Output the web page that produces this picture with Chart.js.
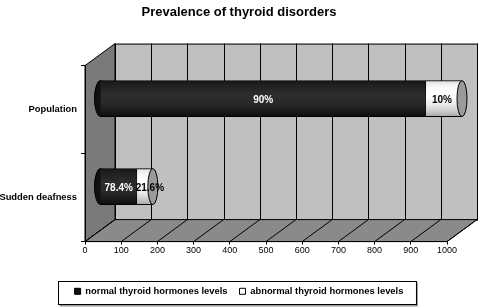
<!DOCTYPE html>
<html>
<head>
<meta charset="utf-8">
<script src="https://cdn.jsdelivr.net/npm/chart.js@4/dist/chart.umd.min.js"></script>
<style>
	body { margin: 0; background: #fff; }
	#wrap { width: 478px; height: 308px; }
</style>
</head>
<body>
<div id="wrap"><canvas id="myChart"></canvas></div>
<script>
var categories = ["Population", "Sudden deafness"];
var normalLevels = [900, 102];
var abnormalLevels = [100, 44];
var normalLabels = ["90%", "78.4%"];
var abnormalLabels = ["10%", "21.6%"];
var seriesNames = ["normal thyroid hormones levels", "abnormal thyroid hormones levels"];
var xMin = 0, xMax = 1000, xStep = 100;

var FONT = "'Liberation Sans', Arial, sans-serif";
var DX = 30, DY = -22; // depth of the back wall

// 3D box: back wall, left wall and floor
var walls = {
	id: "walls",
	beforeDraw: function(chart) {
		var c = chart.ctx, a = chart.chartArea, xs = chart.scales.x;
		c.save();
		c.lineWidth = 1;
		c.strokeStyle = "#000";
		// back wall
		c.fillStyle = "#c0c0c0";
		c.fillRect(a.left + DX, a.top + DY, a.right - a.left, a.bottom - a.top);
		c.strokeRect(a.left + DX + 0.5, a.top + DY + 0.5, a.right - a.left, a.bottom - a.top);
		for (var v = xMin; v <= xMax; v += xStep) {
			var px = Math.round(xs.getPixelForValue(v)) + DX + 0.5;
			c.beginPath();
			c.moveTo(px, a.top + DY);
			c.lineTo(px, a.bottom + DY);
			c.stroke();
		}
		// left wall
		c.fillStyle = "#7a7a7a";
		c.beginPath();
		c.moveTo(a.left, a.top);
		c.lineTo(a.left + DX, a.top + DY);
		c.lineTo(a.left + DX, a.bottom + DY);
		c.lineTo(a.left, a.bottom);
		c.closePath();
		c.fill();
		c.stroke();
		// floor
		c.fillStyle = "#8a8a8a";
		c.beginPath();
		c.moveTo(a.left, a.bottom);
		c.lineTo(a.right, a.bottom);
		c.lineTo(a.right + DX, a.bottom + DY);
		c.lineTo(a.left + DX, a.bottom + DY);
		c.closePath();
		c.fill();
		c.stroke();
		for (var v = xMin; v <= xMax; v += xStep) {
			var px = xs.getPixelForValue(v);
			c.beginPath();
			c.moveTo(px, a.bottom);
			c.lineTo(px + DX, a.bottom + DY);
			c.stroke();
		}
		c.restore();
	}
};

// cylinders: bars pushed to mid depth, with rounded ends and labels
var cylinders = {
	id: "cylinders",
	beforeDatasetsDraw: function(chart) {
		var c = chart.ctx;
		c.save();
		c.translate(DX / 2, DY / 2);
		chart.getDatasetMeta(0).data.forEach(function(bar) {
			c.beginPath();
			c.ellipse(bar.base, bar.y, 6, bar.height / 2, 0, 0, Math.PI * 2);
			c.fillStyle = "#111";
			c.fill();
			c.strokeStyle = "#000";
			c.stroke();
		});
	},
	afterDatasetsDraw: function(chart) {
		var c = chart.ctx;
		// shading
		for (var d = 0; d < 2; d++) {
			chart.getDatasetMeta(d).data.forEach(function(bar) {
				var h = bar.height / 2;
				var g = c.createLinearGradient(0, bar.y - h, 0, bar.y + h);
				if (d == 0) {
					g.addColorStop(0, "rgba(255,255,255,0.03)");
					g.addColorStop(0.3, "rgba(255,255,255,0.10)");
					g.addColorStop(1, "rgba(0,0,0,0.3)");
				} else {
					g.addColorStop(0, "rgba(0,0,0,0.12)");
					g.addColorStop(0.35, "rgba(255,255,255,0)");
					g.addColorStop(1, "rgba(0,0,0,0.35)");
				}
				c.fillStyle = g;
				c.fillRect(Math.min(bar.base, bar.x), bar.y - h, Math.abs(bar.x - bar.base), bar.height);
			});
		}
		// right end caps
		chart.getDatasetMeta(1).data.forEach(function(bar) {
			c.beginPath();
			c.ellipse(bar.x, bar.y, 5, bar.height / 2, 0, 0, Math.PI * 2);
			c.fillStyle = "#9a9a9a";
			c.fill();
			c.strokeStyle = "#000";
			c.stroke();
		});
		// percentage labels
		c.font = "bold 10px " + FONT;
		c.textAlign = "center";
		c.textBaseline = "middle";
		chart.getDatasetMeta(0).data.forEach(function(bar, i) {
			c.fillStyle = "#fff";
			c.fillText(normalLabels[i], (bar.x + bar.base) / 2, bar.y + 2);
		});
		chart.getDatasetMeta(1).data.forEach(function(bar, i) {
			c.fillStyle = "#000";
			c.fillText(abnormalLabels[i], (bar.x + bar.base) / 2 + (i == 1 ? 5 : -2), bar.y + 2);
		});
		c.restore();
	}
};

// frame round the legend
var legendFrame = {
	id: "legendFrame",
	afterDraw: function(chart) {
		var c = chart.ctx, lg = chart.legend;
		if (!lg || !lg.legendHitBoxes.length) return;
		var hb = lg.legendHitBoxes;
		var l = hb[0].left - 17, r = hb[hb.length - 1].left + hb[hb.length - 1].width + 12;
		var t = hb[0].top - 6, b = hb[0].top + hb[0].height + 8;
		c.save();
		c.strokeStyle = "#999";
		c.lineWidth = 2;
		c.beginPath();
		c.moveTo(l + 2, b + 1.5);
		c.lineTo(r + 1.5, b + 1.5);
		c.lineTo(r + 1.5, t + 2);
		c.stroke();
		c.strokeStyle = "#000";
		c.lineWidth = 1;
		c.strokeRect(Math.round(l) + 0.5, Math.round(t) + 0.5, Math.round(r - l), Math.round(b - t));
		c.restore();
	}
};

var ctx = document.getElementById("myChart");

var data = {
	labels : categories,
	datasets : [
		{
			label : seriesNames[0],
			data : normalLevels,
			backgroundColor : "#111",
			borderColor : "#000",
			borderWidth : 1,
			barThickness : 36
		},
		{
			label : seriesNames[1],
			data : abnormalLevels,
			backgroundColor : "#fff",
			borderColor : "#000",
			borderWidth : 1,
			barThickness : 36
		}
	]
};

var myChart = new Chart(ctx, {
	type : "bar",
	data : data,
	plugins : [walls, cylinders, legendFrame],
	options : {
		indexAxis : "y",
		responsive : true,
		maintainAspectRatio : false,
		animation : false,
		layout : { padding : { top : 0, right : 0, bottom : 2, left : 0 } },
		scales : {
			x : {
				stacked : true,
				min : xMin,
				max : xMax,
				ticks : {
					stepSize : xStep,
					color : "#000",
					font : { family : FONT, size : 9 },
					padding : 1,
					maxRotation : 0,
					callback : function(v) { return String(v); }
				},
				grid : { drawOnChartArea : false, color : "#000", tickLength : 3 },
				border : { color : "#000" },
				afterFit : function(s) { s.height = 33; }
			},
			y : {
				stacked : true,
				ticks : { color : "#000", font : { family : FONT, size : 9.4, weight : "bold" }, padding : 4 },
				grid : { drawOnChartArea : false, color : "#000", tickLength : 4 },
				border : { color : "#000" },
				afterFit : function(s) { s.width = 85; }
			},
			// empty strip on the right, room for the depth of the box
			depth : {
				type : "linear",
				position : "right",
				display : true,
				grid : { display : false },
				ticks : { display : false },
				border : { display : false },
				afterFit : function(s) { s.width = 31; }
			}
		},
		plugins : {
			title : {
				display : true,
				text : "Prevalence of thyroid disorders",
				color : "#000",
				font : { family : FONT, size : 13, weight : "bold" },
				padding : { top : 5, bottom : 45 }
			},
			legend : {
				position : "bottom",
				labels : {
					color : "#000",
					font : { family : FONT, size : 9.4, weight : "bold" },
					boxWidth : 6,
					boxHeight : 6,
					padding : 12
				}
			},
			tooltip : { enabled : false }
		}
	}
});
</script>
</body>
</html>
